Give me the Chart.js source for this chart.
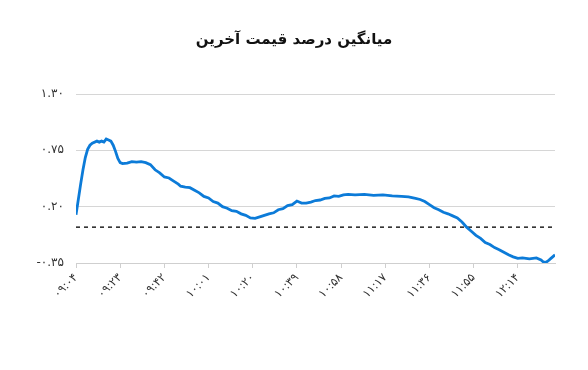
<!DOCTYPE html>
<html>
<head>
<meta charset="utf-8">
<script src="https://cdn.jsdelivr.net/npm/chart.js@4"></script>
<style>
  html, body { margin: 0; padding: 0; background: #fff; }
  #wrap { width: 588px; height: 370px; position: relative; }
</style>
</head>
<body>
<div id="wrap"><canvas id="myChart"></canvas></div>
<script>
// minutes after 09:04 and the average last-price change (%)
const minutes = [0, 1, 2, 3, 4, 5, 6, 7, 9, 10, 11, 12, 13, 14, 15, 16, 17, 18, 19, 20,
  22, 24, 26, 28, 30, 32, 34, 36, 38, 40, 42, 44, 45, 47, 49, 51, 53, 55, 57, 59,
  61, 63, 65, 67, 69, 71, 73, 75, 77, 79, 81, 83, 85, 87, 89, 91, 93, 95, 97, 99,
  101, 103, 105, 107, 109, 111, 113, 115, 117, 120, 124, 128, 132, 136, 140, 143, 146, 148, 150, 152,
  154, 156, 158, 160, 162, 164, 166, 168, 170, 172, 174, 176, 178, 180, 182, 184, 186, 188, 190, 192,
  195, 198, 200, 201, 202, 203, 204, 205, 206];
const avgChange = [0.12, 0.27, 0.42, 0.56, 0.68, 0.76, 0.80, 0.82, 0.84, 0.83, 0.84, 0.83, 0.86, 0.85, 0.84, 0.80, 0.74, 0.67, 0.63, 0.62,
  0.625, 0.64, 0.635, 0.64, 0.63, 0.61, 0.56, 0.53, 0.49, 0.48, 0.45, 0.42, 0.40, 0.39, 0.385, 0.36, 0.335, 0.30, 0.285, 0.25,
  0.235, 0.20, 0.185, 0.16, 0.155, 0.13, 0.115, 0.09, 0.085, 0.10, 0.115, 0.13, 0.14, 0.17, 0.18, 0.21, 0.22, 0.255, 0.235, 0.235,
  0.245, 0.26, 0.265, 0.28, 0.285, 0.305, 0.30, 0.315, 0.32, 0.315, 0.32, 0.31, 0.315, 0.305, 0.30, 0.295, 0.28, 0.27, 0.25, 0.22,
  0.19, 0.17, 0.145, 0.13, 0.11, 0.09, 0.05, 0.00, -0.04, -0.08, -0.11, -0.15, -0.17, -0.20, -0.22, -0.245, -0.27, -0.29, -0.305, -0.30,
  -0.31, -0.30, -0.32, -0.34, -0.345, -0.33, -0.31, -0.29, -0.27];

const xTickValues = [0, 19, 38, 57, 76, 95, 114, 133, 152, 171, 190];
const xTickLabels = ['۰۹:۰۴', '۰۹:۲۳', '۰۹:۴۲', '۱۰:۰۱', '۱۰:۲۰', '۱۰:۳۹', '۱۰:۵۸', '۱۱:۱۷', '۱۱:۳۶', '۱۱:۵۵', '۱۲:۱۴'];
const yTickValues = [-0.35, 0.20, 0.75, 1.30];
const yTickLabels = ['-۰.۳۵', '۰.۲۰', '۰.۷۵', '۱.۳۰'];
const zeroLine = [0, 0];

const font = "'DejaVu Sans', sans-serif";

const data = {
  datasets: [{
    label: 'میانگین',
    data: minutes.map((m, i) => ({ x: m, y: avgChange[i] })),
    borderColor: '#0c7bd8',
    borderWidth: 2.8,
    pointRadius: 0,
    tension: 0,
  }, {
    label: 'صفر',
    data: [{ x: minutes[0], y: zeroLine[0] }, { x: minutes[minutes.length - 1], y: zeroLine[1] }],
    borderColor: '#222',
    borderWidth: 1.5,
    borderDash: [4, 4],
    pointRadius: 0,
  }],
};

const config = {
  type: 'line',
  data: data,
  options: {
    responsive: false,
    animation: false,
    layout: { padding: { left: 33, right: 33, top: 0, bottom: 0 } },
    plugins: {
      legend: { display: false },
      tooltip: { enabled: false },
      title: {
        display: true,
        text: 'میانگین درصد قیمت آخرین',
        color: '#111',
        font: { family: font, size: 15, weight: 'bold', lineHeight: 1.2 },
        padding: { top: 31, bottom: 45 },
      },
    },
    scales: {
      x: {
        type: 'linear',
        min: 0,
        max: 206,
        afterBuildTicks: (scale) => { scale.ticks = xTickValues.map(v => ({ value: v })); },
        afterFit: (scale) => { scale.height = 107; },
        grid: { drawOnChartArea: false, color: '#cfcfcf', tickLength: 5 },
        border: { color: '#cfcfcf' },
        ticks: {
          autoSkip: false,
          minRotation: 45,
          maxRotation: 45,
          color: '#333',
          font: { family: font, size: 11.5 },
          callback: (v, i) => xTickLabels[i],
        },
      },
      y: {
        min: -0.35,
        max: 1.30,
        afterBuildTicks: (scale) => { scale.ticks = yTickValues.map(v => ({ value: v })); },
        afterFit: (scale) => { scale.width = 43; },
        grid: { color: '#d6d6d6', drawTicks: false },
        border: { display: false },
        ticks: {
          padding: 12,
          color: '#333',
          font: { family: font, size: 12 },
          callback: (v, i) => yTickLabels[i],
        },
      },
    },
  },
};

const canvas = document.getElementById('myChart');
canvas.width = 588;
canvas.height = 370;
const myChart = new Chart(canvas, config);
</script>
</body>
</html>
